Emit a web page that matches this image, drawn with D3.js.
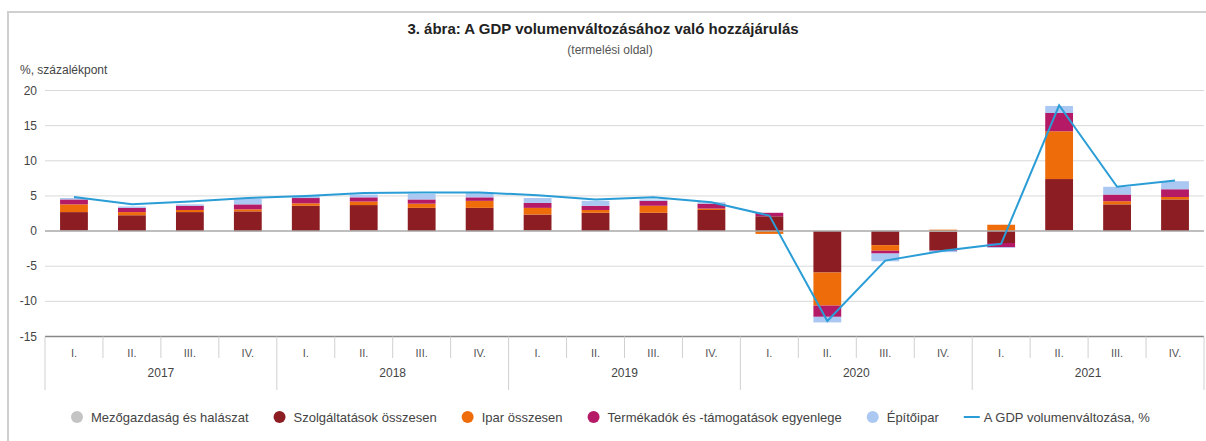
<!DOCTYPE html>
<html>
<head>
<meta charset="utf-8">
<script src="https://cdn.jsdelivr.net/npm/d3@7"></script>
<style>
  body { margin: 0; background: #fff; }
  text { font-family: "Liberation Sans", Arial, sans-serif; }
</style>
</head>
<body>
<div id="chart"></div>
<script>
// negyedévek és évek
const quarters = ['I.', 'II.', 'III.', 'IV.'];
const years = ['2017', '2018', '2019', '2020', '2021'];

// hozzájárulások, százalékpont (negyedévenként, 2017 I. - 2021 IV.)
const mezogazdasag = [0.1, 0.0, 0.0, -0.1, 0.0, 0.1, 0.0, -0.1, 0.1, 0.0, 0.0, 0.0, 0.0, 0.0, 0.1, -0.1, 0.0, 0.1, 0.0, 0.0];
const szolgaltatasok = [2.6, 2.25, 2.7, 2.8, 3.6, 3.6, 3.3, 3.3, 2.25, 2.6, 2.6, 3.0, 2.1, -5.9, -2.0, -2.6, -1.7, 7.3, 3.8, 4.5];
const ipar = [1.1, 0.45, 0.3, 0.3, 0.35, 0.5, 0.6, 1.0, 0.95, 0.4, 1.0, 0.2, -0.4, -4.7, -0.8, 0.2, 0.9, 6.8, 0.45, 0.35];
const termekadok = [0.7, 0.6, 0.6, 0.7, 0.75, 0.6, 0.6, 0.5, 0.7, 0.6, 0.7, 0.7, 0.5, -1.6, -0.4, -0.1, -0.6, 2.6, 0.95, 1.1];
const epitoipar = [0.2, 0.2, 0.2, 0.8, 0.3, 0.4, 0.8, 0.6, 0.7, 0.7, 0.2, 0.2, 0.0, -0.8, -1.1, -0.2, -0.1, 1.0, 1.1, 1.15];
const gdp = [4.85, 3.8, 4.2, 4.7, 5.0, 5.4, 5.5, 5.5, 5.1, 4.5, 4.8, 4.1, 2.2, -12.8, -4.2, -2.8, -1.8, 17.9, 6.3, 7.2];

const yTicks = [20, 15, 10, 5, 0, -5, -10, -15];

const seriesNames = ['Mezőgazdaság és halászat', 'Szolgáltatások összesen', 'Ipar összesen',
  'Termékadók és -támogatások egyenlege', 'Építőipar'];
const seriesColors = ['#c4c4c4', '#8c1d22', '#ef6c0a', '#b41a66', '#aac8f2'];
const lineName = 'A GDP volumenváltozása, %';
const lineColor = '#2a9dd6';

const W = 1206, H = 441;
const svg = d3.select('#chart').append('svg').attr('width', W).attr('height', H);

svg.append('rect').attr('x', 8).attr('y', 12).attr('width', W + 10).attr('height', H + 10)
  .attr('fill', '#fff').attr('stroke', '#d0d0d0').attr('stroke-width', 2);

svg.append('text').attr('x', 603).attr('y', 34).attr('text-anchor', 'middle')
  .style('font-size', '15px').style('font-weight', 'bold').attr('fill', '#222')
  .text('3. ábra: A GDP volumenváltozásához való hozzájárulás');
svg.append('text').attr('x', 610).attr('y', 54).attr('text-anchor', 'middle')
  .style('font-size', '12px').attr('fill', '#555').text('(termelési oldal)');
svg.append('text').attr('x', 20).attr('y', 74)
  .style('font-size', '12px').attr('fill', '#444').text('%, százalékpont');

const labels = [];
years.forEach(y => quarters.forEach(q => labels.push(y + ' ' + q)));

const x = d3.scaleBand().domain(labels).range([45, 1204]).paddingInner(0.52).paddingOuter(0.26);
const y = d3.scaleLinear().domain([-15, 20]).range([336.5, 90.5]);

// rácsvonalak
svg.append('g').selectAll('line').data(yTicks.filter(t => t !== 0 && t !== -15)).enter().append('line')
  .attr('x1', 45).attr('x2', 1204)
  .attr('y1', d => y(d)).attr('y2', d => y(d))
  .attr('stroke', '#d9d9d9').attr('stroke-width', 1);

svg.append('g').selectAll('text').data(yTicks).enter().append('text')
  .attr('x', 37).attr('y', d => y(d) + 4).attr('text-anchor', 'end')
  .style('font-size', '12px').attr('fill', '#444').text(d => d);

// halmozott oszlopok
const table = labels.map((l, i) => ({
  label: l,
  values: [mezogazdasag[i], szolgaltatasok[i], ipar[i], termekadok[i], epitoipar[i]]
}));

const segs = [];
table.forEach(row => {
  let pos = 0, neg = 0;
  row.values.forEach((v, s) => {
    let y0, y1;
    if (v >= 0) { y0 = pos; y1 = pos + v; pos = y1; }
    else { y0 = neg; y1 = neg + v; neg = y1; }
    segs.push({ label: row.label, s: s, y0: y0, y1: y1 });
  });
});

svg.append('g').selectAll('rect').data(segs).enter().append('rect')
  .attr('x', d => x(d.label))
  .attr('width', x.bandwidth())
  .attr('y', d => y(Math.max(d.y0, d.y1)))
  .attr('height', d => Math.abs(y(d.y0) - y(d.y1)))
  .attr('fill', d => seriesColors[d.s]);

// nulla vonal és tengely
svg.append('line').attr('x1', 45).attr('x2', 1204).attr('y1', y(0)).attr('y2', y(0))
  .attr('stroke', '#a8a8a8').attr('stroke-width', 1.5);
svg.append('line').attr('x1', 45).attr('x2', 1204).attr('y1', y(-15)).attr('y2', y(-15))
  .attr('stroke', '#888').attr('stroke-width', 1.5);

// GDP vonal
const line = d3.line()
  .x((d, i) => x(labels[i]) + x.bandwidth() / 2)
  .y(d => y(d));
svg.append('path').datum(gdp).attr('d', line)
  .attr('fill', 'none').attr('stroke', lineColor).attr('stroke-width', 2);

// x tengely: negyedévek és évek
const step = x.step();
const xAxis = svg.append('g');
labels.forEach((l, i) => {
  const left = 45 + i * step;
  const isYear = i % 4 === 0;
  xAxis.append('line').attr('x1', left).attr('x2', left)
    .attr('y1', y(-15)).attr('y2', isYear ? 390 : 358)
    .attr('stroke', '#d0d0d0').attr('stroke-width', 1);
  xAxis.append('text').attr('x', left + step / 2).attr('y', 357).attr('text-anchor', 'middle')
    .style('font-size', '11px').attr('fill', '#555').text(quarters[i % 4]);
});
xAxis.append('line').attr('x1', 1204).attr('x2', 1204).attr('y1', y(-15)).attr('y2', 390)
  .attr('stroke', '#d0d0d0');
years.forEach((yr, j) => {
  xAxis.append('text').attr('x', 45 + (j * 4 + 2) * step).attr('y', 377).attr('text-anchor', 'middle')
    .style('font-size', '12px').attr('fill', '#444').text(yr);
});

// jelmagyarázat
const legend = svg.append('g');
const items = seriesNames.map((n, i) => ({ name: n, color: seriesColors[i], type: 'dot' }))
  .concat([{ name: lineName, color: lineColor, type: 'line' }]);
const gap = 25;
let lx = 0;
items.forEach(it => {
  const g = legend.append('g').attr('transform', `translate(${lx},0)`);
  if (it.type === 'dot') {
    g.append('circle').attr('cx', 6).attr('cy', 417).attr('r', 6).attr('fill', it.color);
  } else {
    g.append('line').attr('x1', 0).attr('x2', 16).attr('y1', 417).attr('y2', 417)
      .attr('stroke', it.color).attr('stroke-width', 2);
  }
  const t = g.append('text').attr('x', 20).attr('y', 421.5)
    .style('font-size', '13px').attr('fill', '#444').text(it.name);
  lx += 20 + t.node().getComputedTextLength() + gap;
});
const total = lx - gap;
legend.attr('transform', `translate(${71},0)`);
</script>
</body>
</html>
